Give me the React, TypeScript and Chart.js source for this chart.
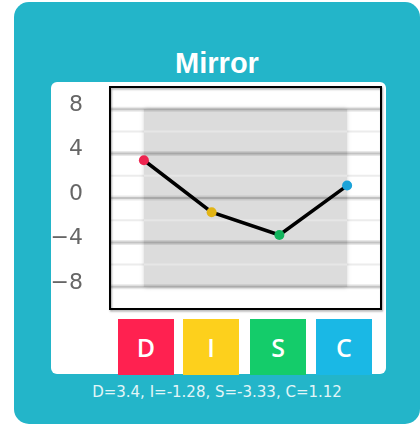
import React, { useEffect, useRef } from "react";
import { Chart, registerables } from "chart.js";

Chart.register(...registerables);

const title = "Mirror";
const categories = ["D", "I", "S", "C"];
const values = [3.4, -1.28, -3.33, 1.12];
const pointColors = ["#ee2550", "#e2b414", "#13b35c", "#1ba3d9"];
const boxColors = ["#ff2150", "#fdd01c", "#14cc6a", "#1ab8e5"];
const yTickValues = [8, 4, 0, -4, -8];
const majorLines = [8, 4, 0, -4, -8];
const minorLines = [6, 2, -2, -6];
const bandRange = [-8, 8];
const yRange = [-10, 10];

const TEAL = "#23b5c9";

const gridPlugin = {
  id: "discGrid",
  beforeDatasetsDraw(chart: any) {
    const { ctx, chartArea } = chart;
    const x = chart.scales.x;
    const y = chart.scales.y;
    const L = chartArea.left;
    const R = chartArea.right;
    ctx.save();
    ctx.strokeStyle = "#ececec";
    ctx.lineWidth = 2;
    for (const v of minorLines) {
      const py = y.getPixelForValue(v);
      ctx.beginPath();
      ctx.moveTo(L, py);
      ctx.lineTo(R, py);
      ctx.stroke();
    }
    const x0 = x.getPixelForValue(0);
    const x1 = x.getPixelForValue(categories.length - 1);
    const yTop = y.getPixelForValue(bandRange[1]);
    const yBot = y.getPixelForValue(bandRange[0]);
    ctx.save();
    ctx.shadowColor = "rgba(0,0,0,0.18)";
    ctx.shadowBlur = 5;
    ctx.fillStyle = "#dcdcdc";
    ctx.fillRect(x0, yTop, x1 - x0, yBot - yTop);
    ctx.restore();
    ctx.strokeStyle = "#e6e6e6";
    ctx.lineWidth = 2;
    for (const v of minorLines) {
      const py = y.getPixelForValue(v);
      ctx.beginPath();
      ctx.moveTo(x0, py);
      ctx.lineTo(x1, py);
      ctx.stroke();
    }
    for (const v of majorLines) {
      const py = y.getPixelForValue(v);
      ctx.strokeStyle = "rgba(0,0,0,0.09)";
      ctx.lineWidth = 5;
      ctx.beginPath();
      ctx.moveTo(L, py);
      ctx.lineTo(R, py);
      ctx.stroke();
      ctx.strokeStyle = "rgba(0,0,0,0.16)";
      ctx.lineWidth = 2;
      ctx.beginPath();
      ctx.moveTo(L, py);
      ctx.lineTo(R, py);
      ctx.stroke();
    }
    ctx.save();
    ctx.shadowColor = "rgba(0,0,0,0.35)";
    ctx.shadowBlur = 2;
    ctx.shadowOffsetX = 1;
    ctx.shadowOffsetY = 1.5;
    ctx.strokeStyle = "#000";
    ctx.lineWidth = 2;
    ctx.strokeRect(L, chartArea.top, R - L, chartArea.bottom - chartArea.top);
    ctx.restore();
    ctx.restore();
  },
};

function DiscChart() {
  const ref = useRef<HTMLCanvasElement | null>(null);
  useEffect(() => {
    if (!ref.current) return;
    const chart = new Chart(ref.current, {
      type: "line",
      data: {
        labels: categories,
        datasets: [
          {
            data: values,
            borderColor: "#000",
            borderWidth: 3.5,
            pointRadius: 5,
            pointHoverRadius: 5,
            pointBorderWidth: 0,
            pointBackgroundColor: pointColors,
            pointBorderColor: pointColors,
            tension: 0,
            fill: false,
          },
        ],
      },
      options: {
        responsive: false,
        animation: false,
        devicePixelRatio: 1,
        layout: { padding: { left: 0, right: 5, top: 3, bottom: 5 } },
        plugins: { legend: { display: false }, tooltip: { enabled: false } },
        scales: {
          x: { display: false, offset: true },
          y: {
            min: yRange[0],
            max: yRange[1],
            grid: { display: false, drawTicks: false },
            border: { display: false },
            afterBuildTicks: (s: any) => {
              s.ticks = yTickValues.map((v) => ({ value: v }));
            },
            afterFit: (s: any) => {
              s.width = 59;
              s.paddingTop = 0;
              s.paddingBottom = 0;
            },
            ticks: {
              padding: 27,
              labelOffset: -4,
              color: "#666",
              font: { family: "'DejaVu Sans'", size: 22 },
              callback: (v: any) => (Number(v) < 0 ? "\u2212" + Math.abs(Number(v)) : String(v)),
            },
          },
        },
      },
      plugins: [gridPlugin],
    });
    return () => chart.destroy();
  }, []);
  return <canvas ref={ref} width={335} height={232} style={{ display: "block", width: 335, height: 232 }} />;
}

const boxLefts = [118, 183, 250, 316];

export default function App() {
  const summary = categories.map((c, i) => `${c}=${values[i]}`).join(", ");
  return (
    <div
      style={{
        position: "absolute",
        left: 14,
        top: 2,
        width: 406,
        height: 422,
        background: TEAL,
        borderRadius: 15,
        overflow: "hidden",
      }}
    >
      <div
        style={{
          position: "absolute",
          left: 0,
          width: 406,
          top: 45,
          lineHeight: "32px",
          textAlign: "center",
          color: "#fff",
          fontFamily: "'Liberation Sans', sans-serif",
          fontWeight: "bold",
          fontSize: 29,
        }}
      >
        {title}
      </div>
      <div
        style={{
          position: "absolute",
          left: 37,
          top: 80,
          width: 335,
          height: 292,
          background: "#fff",
          borderRadius: 6,
        }}
      >
        <DiscChart />
      </div>
      {categories.map((c, i) => (
        <div
          key={c}
          style={{
            position: "absolute",
            left: boxLefts[i] - 14,
            top: 317,
            width: 56,
            height: 56,
            background: boxColors[i],
            color: "#fff",
            display: "flex",
            alignItems: "center",
            justifyContent: "center",
            fontFamily: "'Open Sans', 'DejaVu Sans', sans-serif",
            fontWeight: 600,
            fontSize: 25,
          }}
        >
          {c}
        </div>
      ))}
      <div
        style={{
          position: "absolute",
          left: 0,
          width: 406,
          top: 381,
          lineHeight: "18px",
          textAlign: "center",
          color: "#e2f5f8",
          fontFamily: "'DejaVu Sans', sans-serif",
          fontSize: 15,
        }}
      >
        {summary}
      </div>
    </div>
  );
}
